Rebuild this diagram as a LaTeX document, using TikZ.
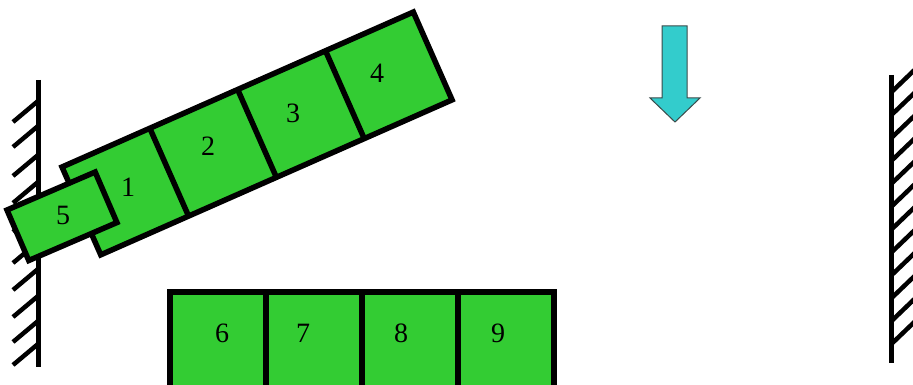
\documentclass[tikz,border=0pt]{standalone}
\usepackage{fontspec}
\setmainfont{Liberation Serif}
\definecolor{blockgreen}{HTML}{33CC33}
\definecolor{arrowteal}{HTML}{33CCCC}
\definecolor{arrowedge}{HTML}{3A4A4A}
\begin{document}
\begin{tikzpicture}[x=1pt,y=-1pt,
  blockshape/.style={fill=blockgreen, draw=black, line width=5.5pt, line join=miter},
  divider/.style={draw=black, line width=5.5pt},
  wallline/.style={line width=5pt},
  hatchline/.style={line width=4.5pt},
  num/.style={font=\fontsize{28}{28}\selectfont, inner sep=0pt}]
\useasboundingbox (0,0) rectangle (913,385);
\clip (0,0) rectangle (913,385);
% left wall
\foreach \y in {122,147,176,203,232,263,290,317,342,365}
  \draw[hatchline] (13,\y) -- (38,\y-21);
\draw[wallline] (38,80) -- (38,367);
% right wall
\draw[wallline] (891,75) -- (891,363);
\foreach \k in {0,...,11}
  \draw[hatchline] (891,{92.5+22.9*\k}) -- (916,{92.5+22.9*\k-24});
% tilted row 1-4
\begin{scope}[shift={(62,167)}, rotate=23.8]
  \draw[blockshape] (0,0) rectangle (384,96);
  \foreach \k in {1,2,3}
    \draw[divider] (96*\k,0) -- (96*\k,96);
\end{scope}
% block 5
\begin{scope}[shift={(7,210)}, rotate=23.3]
  \draw[blockshape] (0,0) rectangle (96,55);
\end{scope}
% bottom row 6-9
\foreach \x in {170,266,362,458}
  \draw[blockshape] (\x,292) rectangle ++(96,100);
% arrow
\draw[fill=arrowteal, draw=arrowedge, line width=1pt, line join=miter]
  (662,26) -- (687,26) -- (687,98) -- (700,98) -- (675,122) -- (650,98) -- (662,98) -- cycle;
% labels
\node[num] (n1) at (128,187) {1};
\node[num] (n2) at (208,146) {2};
\node[num] (n3) at (293,113) {3};
\node[num] (n4) at (377,73) {4};
\node[num] (n5) at (63,215) {5};
\node[num] (n6) at (222,333) {6};
\node[num] (n7) at (303,333) {7};
\node[num] (n8) at (401,333) {8};
\node[num] (n9) at (498,333) {9};
\end{tikzpicture}
\end{document}
